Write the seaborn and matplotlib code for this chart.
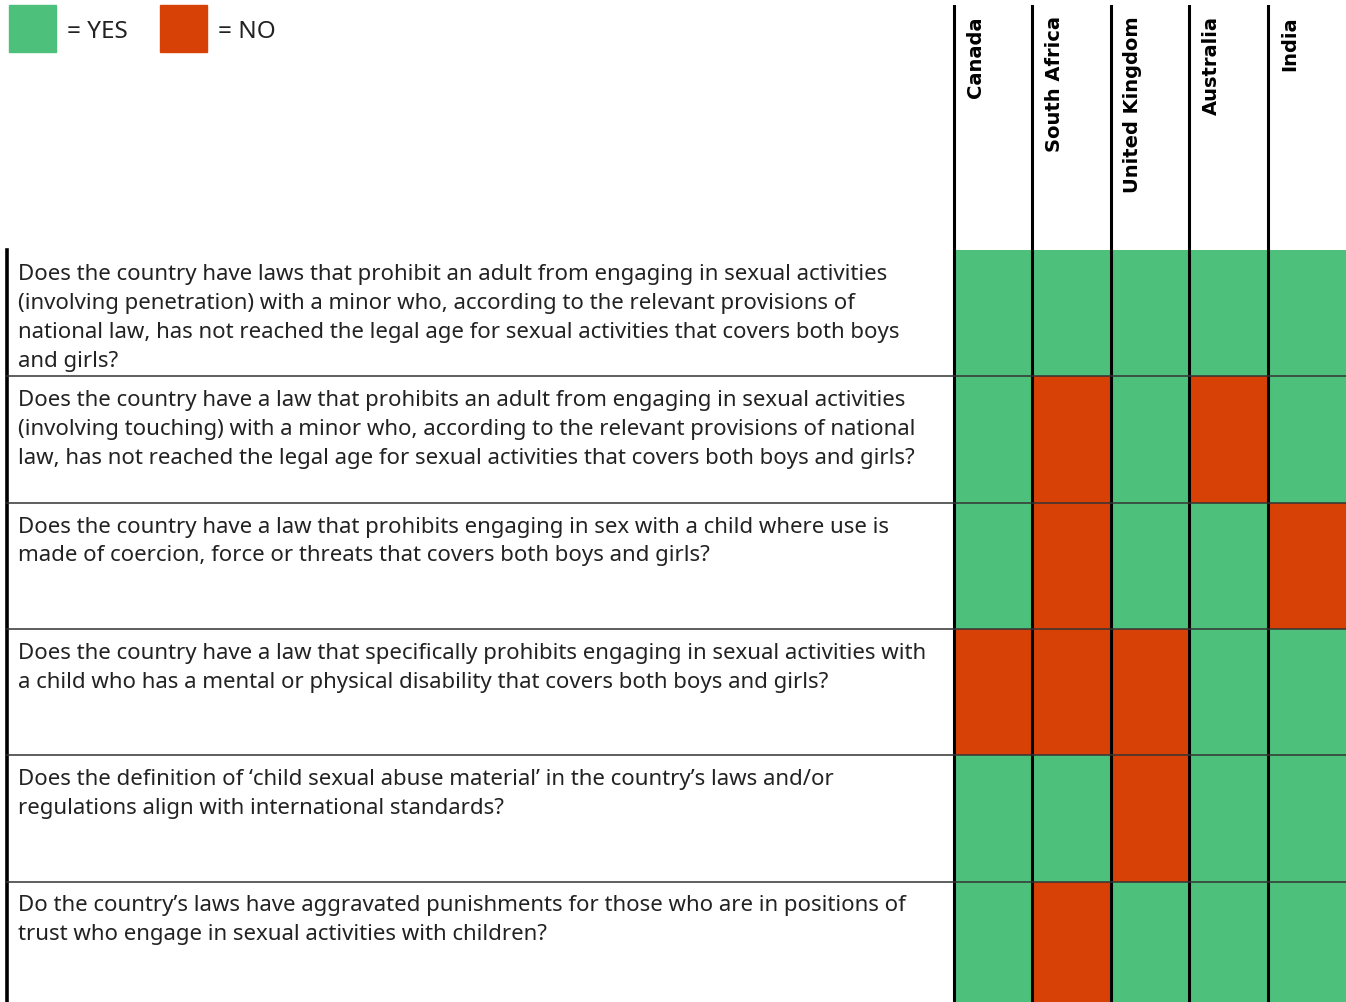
import matplotlib
matplotlib.use("Agg")
import matplotlib.pyplot as plt
from matplotlib.colors import ListedColormap
from matplotlib.lines import Line2D
from matplotlib.patches import Rectangle
import pandas as pd
import seaborn as sns

# ---- data -----------------------------------------------------------------
countries = ["Canada", "South Africa", "United Kingdom", "Australia", "India"]

questions = [
    "Does the country have laws that prohibit an adult from engaging in sexual activities\n"
    "(involving penetration) with a minor who, according to the relevant provisions of\n"
    "national law, has not reached the legal age for sexual activities that covers both boys\n"
    "and girls?",
    "Does the country have a law that prohibits an adult from engaging in sexual activities\n"
    "(involving touching) with a minor who, according to the relevant provisions of national\n"
    "law, has not reached the legal age for sexual activities that covers both boys and girls?",
    "Does the country have a law that prohibits engaging in sex with a child where use is\n"
    "made of coercion, force or threats that covers both boys and girls?",
    "Does the country have a law that specifically prohibits engaging in sexual activities with\n"
    "a child who has a mental or physical disability that covers both boys and girls?",
    "Does the definition of \u2018child sexual abuse material\u2019 in the country\u2019s laws and/or\n"
    "regulations align with international standards?",
    "Do the country\u2019s laws have aggravated punishments for those who are in positions of\n"
    "trust who engage in sexual activities with children?",
]

# 1 = YES, 0 = NO  (columns follow `countries`)
q1 = [1, 1, 1, 1, 1]
q2 = [1, 0, 1, 0, 1]
q3 = [1, 0, 1, 1, 0]
q4 = [0, 0, 0, 1, 1]
q5 = [1, 1, 0, 1, 1]
q6 = [1, 0, 1, 1, 1]

legend_labels = ["= YES", "= NO"]

GREEN = "#4dc17b"
RED = "#d84105"
TXT = "#222222"

# ---- layout (pixel based) -------------------------------------------------
W, H = 1346, 1003
fig = plt.figure(figsize=(W / 100, H / 100), dpi=100)
plt.rcParams["font.family"] = ["Noto Sans", "DejaVu Sans"]


def fx(px):
    return px / W


def fy(py):
    return 1 - py / H


grid_left, grid_right = 954, 1346
grid_top = 251
row_h = 126.3
n_rows = len(questions)
col_w = (grid_right - grid_left) / len(countries)

ax = fig.add_axes([fx(grid_left), 0, fx(grid_right - grid_left), fy(grid_top)])
df = pd.DataFrame([q1, q2, q3, q4, q5, q6], columns=countries)
sns.heatmap(df, ax=ax, cmap=ListedColormap([RED, GREEN]), vmin=0, vmax=1,
            cbar=False, xticklabels=False, yticklabels=False)
visible_rows = (H - grid_top) / row_h
ax.set_ylim(visible_rows, 0)
ax.set_xlim(0, len(countries))
for s in ax.spines.values():
    s.set_visible(False)

# vertical column separators (extend up into header)
for i in range(len(countries)):
    x = fx(grid_left + i * col_w)
    fig.add_artist(Line2D([x, x], [fy(7), 0], color="black", lw=2.2))

# left border of the question table
fig.add_artist(Line2D([fx(7), fx(7)], [fy(grid_top), 0], color="black", lw=2.6))

# horizontal row separators
for r in range(1, n_rows):
    y = fy(grid_top + r * row_h)
    fig.add_artist(Line2D([fx(7), 1], [y, y], color="#333333", lw=1.1))

# question texts
for r, q in enumerate(questions):
    fig.text(fx(18), fy(grid_top + r * row_h + 13), q, ha="left", va="top",
             fontsize=16, color=TXT, linespacing=1.49)

# country headers
for i, c in enumerate(countries):
    cx = grid_left + i * col_w + 22
    fig.text(fx(cx), fy(16), c, rotation=90, ha="center", va="top",
             fontsize=14, fontweight="bold", color="black",
             family=["DejaVu Sans"])

# legend
for (x0, col), lab in zip([(9, GREEN), (160, RED)], legend_labels):
    fig.add_artist(Rectangle((fx(x0), fy(53)), fx(47), 47 / H, color=col,
                             transform=fig.transFigure))
    fig.text(fx(x0 + 58), fy(32), lab, ha="left", va="center",
             fontsize=17.5, color=TXT)

fig.savefig("out.png", dpi=100)
